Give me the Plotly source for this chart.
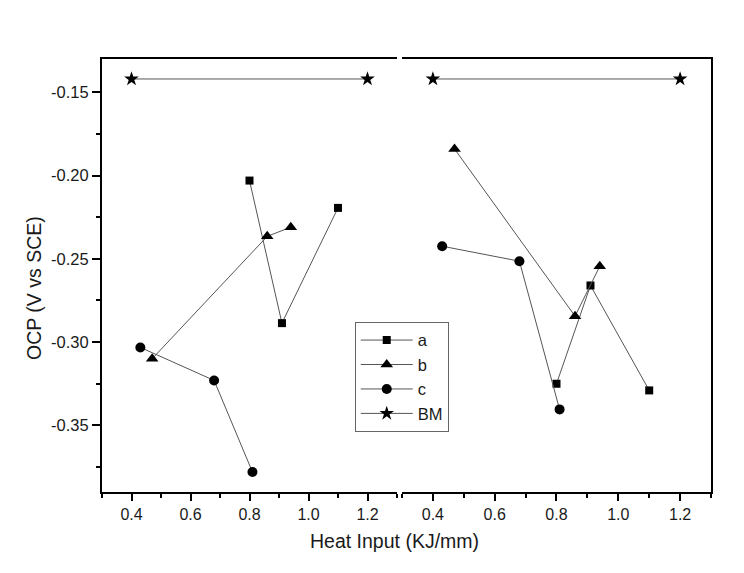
import plotly.graph_objects as go

# ---- data (left panel) ----
a_left_x = [0.80, 0.91, 1.10]
a_left_y = [-0.203, -0.2886, -0.2194]
b_left_x = [0.47, 0.86, 0.94]
b_left_y = [-0.310, -0.2365, -0.231]
c_left_x = [0.43, 0.68, 0.81]
c_left_y = [-0.3032, -0.323, -0.378]
bm_left_x = [0.40, 1.20]
bm_left_y = [-0.142, -0.142]

# ---- data (right panel) ----
a_right_x = [0.80, 0.91, 1.10]
a_right_y = [-0.325, -0.266, -0.329]
b_right_x = [0.47, 0.86, 0.94]
b_right_y = [-0.184, -0.2844, -0.2545]
c_right_x = [0.43, 0.68, 0.81]
c_right_y = [-0.2424, -0.2514, -0.3404]
bm_right_x = [0.40, 1.20]
bm_right_y = [-0.142, -0.142]

series_names = ["a", "b", "c", "BM"]
y_tick_vals = [-0.35, -0.30, -0.25, -0.20, -0.15]
y_tick_text = ["-0.35", "-0.30", "-0.25", "-0.20", "-0.15"]

symbols = ["square", "triangle-up", "circle", "star"]
msizes = [8, 11, 10, 11]

FONT = "Liberation Sans, Arial, sans-serif"
LINE_C = "#555555"
MARK_C = "#000000"
TXT_C = "#1a1a1a"

fig = go.Figure()

left = [(a_left_x, a_left_y), (b_left_x, b_left_y), (c_left_x, c_left_y), (bm_left_x, bm_left_y)]
right = [(a_right_x, a_right_y), (b_right_x, b_right_y), (c_right_x, c_right_y), (bm_right_x, bm_right_y)]

for i, (xs, ys) in enumerate(left):
    fig.add_trace(go.Scatter(
        x=xs, y=ys, mode="lines+markers", name=series_names[i],
        showlegend=True,
        line=dict(color=LINE_C, width=1),
        marker=dict(symbol=symbols[i], size=msizes[i], color=MARK_C),
        xaxis="x", yaxis="y"))

for i, (xs, ys) in enumerate(right):
    fig.add_trace(go.Scatter(
        x=xs, y=ys, mode="lines+markers", name=series_names[i],
        showlegend=False,
        line=dict(color=LINE_C, width=1),
        marker=dict(symbol=symbols[i], size=msizes[i], color=MARK_C),
        xaxis="x2", yaxis="y2"))

xtickfont = dict(family=FONT, size=16, color=TXT_C)
ytickfont = dict(family=FONT, size=16.5, color=TXT_C)

xcommon = dict(
    range=[0.3, 1.3], tick0=0.4, dtick=0.2, tickformat=".1f",
    showline=True, linecolor="black", linewidth=2, mirror=True,
    ticks="outside", ticklen=7, tickwidth=1.5, tickcolor="black",
    minor=dict(dtick=0.1, tick0=0.3, ticks="outside", ticklen=4, tickwidth=1.5, tickcolor="black"),
    showgrid=False, zeroline=False, tickfont=xtickfont,
)

ycommon = dict(
    range=[-0.39, -0.13], showgrid=False, zeroline=False,
    showline=True, linecolor="black", linewidth=2,
)

fig.update_layout(
    width=744, height=573,
    margin=dict(l=102, r=33, t=59, b=81),
    paper_bgcolor="white", plot_bgcolor="white",
    font=dict(family=FONT, color=TXT_C),
    xaxis=dict(domain=[0, 0.4844], anchor="y", **xcommon),
    xaxis2=dict(domain=[0.4926, 1.0], anchor="y2", **xcommon),
    yaxis=dict(anchor="x", tickmode="array", tickvals=y_tick_vals, ticktext=y_tick_text,
               ticks="outside", ticklen=8, tickwidth=1.5, tickcolor="black",
               minor=dict(dtick=0.025, tick0=-0.175, ticks="outside", ticklen=4, tickwidth=1.5, tickcolor="black"),
               tickfont=ytickfont,
               **ycommon),
    yaxis2=dict(anchor="x2", side="right", matches="y", showticklabels=False, ticks="",
                **ycommon),
    showlegend=True,
    legend=dict(x=0.415, y=0.393, xanchor="left", yanchor="top",
                bordercolor="#666666", borderwidth=1, bgcolor="white",
                font=dict(family=FONT, size=16.5, color=TXT_C),
                itemwidth=52, entrywidth=36, entrywidthmode="pixels"),
    annotations=[
        dict(text="Heat Input (KJ/mm)", xref="paper", yref="paper",
             x=0.481, y=-0.113, xanchor="center", yanchor="middle",
             showarrow=False, font=dict(family=FONT, size=19.5, color=TXT_C)),
        dict(text="OCP (V vs SCE)", xref="paper", yref="paper",
             x=-0.1117, y=0.471, xanchor="center", yanchor="middle", textangle=-90,
             showarrow=False, font=dict(family=FONT, size=19.5, color=TXT_C)),
    ],
)

fig.write_html("out.html", config={"displayModeBar": False},
               post_script="document.body.style.margin='0';")
